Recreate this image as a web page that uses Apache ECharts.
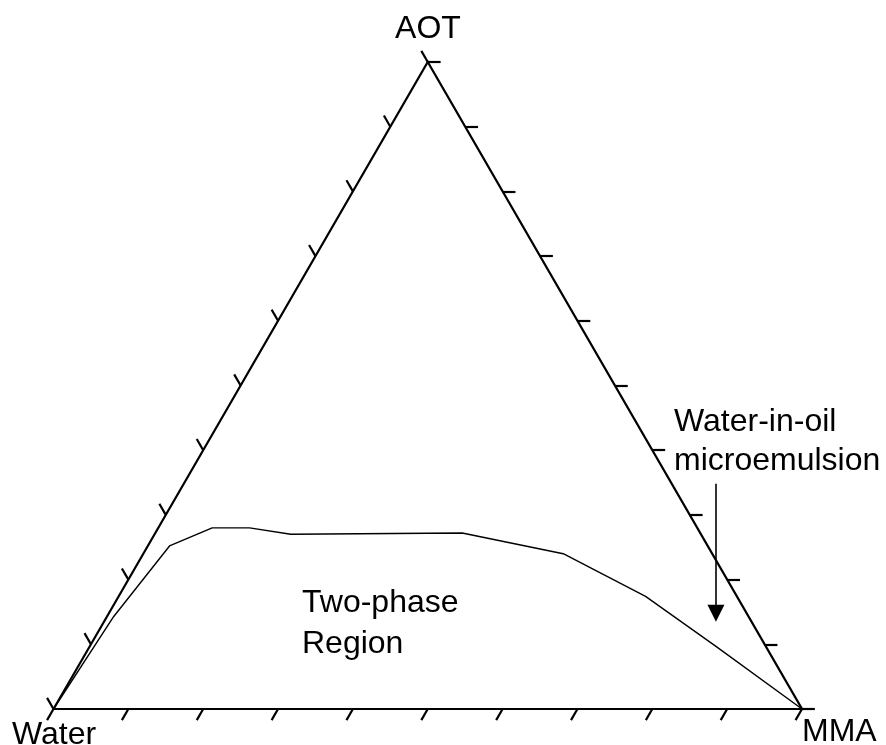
<!DOCTYPE html>
<html>
<head>
<meta charset="utf-8">
<script src="https://cdn.jsdelivr.net/npm/echarts@6/dist/echarts.min.js"></script>
<style>
  html, body { margin: 0; padding: 0; background: #fff; }
  #chart { width: 886px; height: 745px; }
</style>
</head>
<body>
<div id="chart"></div>
<script>
// Ternary phase diagram: Water / AOT / MMA (percent compositions)
const cornerLabels = ['Water', 'AOT', 'MMA'];
const tickValues = [0, 10, 20, 30, 40, 50, 60, 70, 80, 90, 100];

// Two-phase boundary (AOT %, MMA %; water is the remainder)
const boundaryAOT = [0, 14.3, 25.2, 28.0, 28.0, 27.0, 27.2, 24.0, 17.4, 9.6, 0];
const boundaryMMA = [0, 0.9, 2.9, 7.2, 12.2, 18.2, 41.0, 56.1, 70.4, 83.8, 100];

// Arrow pointing into the water-in-oil microemulsion region
const arrowAOT = [34.8, 14.8];
const arrowMMA = [71.1, 81.1];

const H = Math.sqrt(3) / 2;
// composition -> cartesian (Water at origin, MMA at (1,0), AOT at apex)
function project(aot, mma) {
  return [(mma + aot / 2) / 100, (aot / 100) * H];
}

const TICK = 0.0172;
function tickSegment(p, dir) {
  return { coords: [p, [p[0] + dir[0] * TICK, p[1] + dir[1] * TICK]] };
}

const tickData = [];
tickValues.forEach(function (t) {
  // Water–AOT edge: ticks pointing up-left
  tickData.push(tickSegment(project(t, 0), [-0.5, H]));
  // AOT–MMA edge: ticks pointing right
  tickData.push(tickSegment(project(t, 100 - t), [1, 0]));
  // Water–MMA edge: ticks pointing down-left
  tickData.push(tickSegment(project(0, t), [-0.5, -H]));
});

const frame = [project(0, 0), project(100, 0), project(0, 100), project(0, 0)];
const boundary = boundaryAOT.map(function (a, i) { return project(a, boundaryMMA[i]); });
const arrow = [project(arrowAOT[0], arrowMMA[0]), project(arrowAOT[1], arrowMMA[1])];

const FONT = '"Liberation Sans", Arial, sans-serif';
const chart = echarts.init(document.getElementById('chart'), null, { renderer: 'canvas' });

chart.setOption({
  animation: false,
  backgroundColor: '#ffffff',
  grid: { left: 53.5, top: 62, width: 748.5, height: 647 },
  xAxis: { type: 'value', min: 0, max: 1, show: false },
  yAxis: { type: 'value', min: 0, max: H, show: false },
  series: [
    {
      type: 'line',
      data: frame,
      symbol: 'none',
      clip: false,
      lineStyle: { color: '#000', width: 2.2, join: 'miter' },
      z: 3
    },
    {
      type: 'lines',
      coordinateSystem: 'cartesian2d',
      data: tickData,
      clip: false,
      lineStyle: { color: '#000', width: 2.2, opacity: 1 },
      z: 3
    },
    {
      type: 'line',
      data: boundary,
      symbol: 'none',
      clip: false,
      lineStyle: { color: '#000', width: 1.4 },
      z: 2
    },
    {
      type: 'lines',
      coordinateSystem: 'cartesian2d',
      data: [{ coords: arrow }],
      clip: false,
      symbol: ['none', 'triangle'],
      symbolSize: [10, 17],
      lineStyle: { color: '#000', width: 1.6, opacity: 1 },
      itemStyle: { color: '#000' },
      z: 4
    }
  ],
  graphic: [
    { type: 'text', x: 428, y: 13, style: { text: cornerLabels[1], align: 'center', font: '32px ' + FONT, fill: '#000' } },
    { type: 'text', x: 12, y: 719, style: { text: cornerLabels[0], font: '32px ' + FONT, fill: '#000' } },
    { type: 'text', x: 802, y: 716, style: { text: cornerLabels[2], font: '32px ' + FONT, fill: '#000' } },
    { type: 'text', x: 674, y: 403, style: { text: 'Water-in-oil\nmicroemulsion', font: '32px ' + FONT, lineHeight: 38.5, fill: '#000' } },
    { type: 'text', x: 302, y: 583, style: { text: 'Two-phase\nRegion', font: '32px ' + FONT, lineHeight: 41, fill: '#000' } }
  ]
});
</script>
</body>
</html>
